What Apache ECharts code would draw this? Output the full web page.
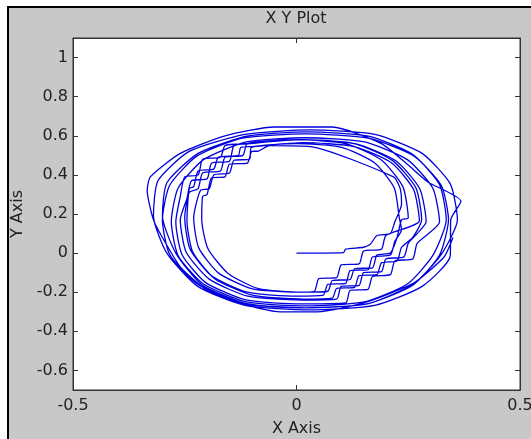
<!DOCTYPE html>
<html>
<head>
<meta charset="utf-8">
<title>X Y Plot</title>
<script src="https://cdn.jsdelivr.net/npm/echarts@6/dist/echarts.min.js"></script>
<style>
  html, body { margin: 0; padding: 0; background: #fff; }
  #frame {
    position: absolute; left: 7px; top: 6px; width: 522px; height: 431px;
    border-left: 2px solid #000; border-top: 2px solid #000; background: #c8c8c8;
  }
  #chart { position: absolute; left: 0; top: 0; width: 531px; height: 439px; }
</style>
</head>
<body>
<div id="frame"></div>
<div id="chart"></div>
<script>
// tick labels
const xTicks = [-0.5, 0, 0.5]
const yTicks = [-0.6, -0.4, -0.2, 0, 0.2, 0.4, 0.6, 0.8, 1]

// trajectory (x, y)
const startPath = [
  [0.0, 0.0], [0.06, 0.0], [0.105, 0.002], [0.11, 0.02], [0.15, 0.03], [0.165, 0.045],
  [0.18, 0.09], [0.21, 0.10], [0.22, 0.16], [0.235, 0.25], [0.232, 0.33], [0.217, 0.39],
  [0.031, 0.545]
]
const loop1 = [
  [-0.06, 0.55], [-0.085, 0.522], [-0.10, 0.52], [-0.11, 0.46], [-0.15, 0.455], [-0.16, 0.39],
  [-0.19, 0.385], [-0.20, 0.30], [-0.21, 0.29], [-0.212, 0.17], [-0.198, 0.022], [-0.153, -0.104],
  [-0.085, -0.182], [0.01, -0.20], [0.07, -0.195], [0.08, -0.14], [0.12, -0.135], [0.13, -0.08],
  [0.17, -0.075], [0.18, -0.01], [0.21, 0.0], [0.225, 0.08], [0.235, 0.17]
]
const loop2 = [
  [0.25, 0.18], [0.238, 0.34], [0.19, 0.476], [0.11, 0.56], [0.0, 0.58], [-0.11, 0.56],
  [-0.12, 0.50], [-0.16, 0.49], [-0.17, 0.42], [-0.21, 0.41], [-0.22, 0.33], [-0.24, 0.31],
  [-0.25, 0.18], [-0.238, 0.02], [-0.19, -0.116], [-0.11, -0.20], [0.0, -0.22], [0.06, -0.215],
  [0.07, -0.16], [0.11, -0.155], [0.12, -0.09], [0.16, -0.085], [0.17, -0.02], [0.21, -0.01],
  [0.22, 0.06], [0.235, 0.12]
]
const loop3 = [
  [0.23, 0.18], [0.219, 0.332], [0.175, 0.461], [0.101, 0.541], [0.0, 0.56], [-0.101, 0.541],
  [-0.105, 0.48], [-0.14, 0.475], [-0.15, 0.41], [-0.185, 0.40], [-0.195, 0.33], [-0.215, 0.32],
  [-0.23, 0.18], [-0.219, 0.028], [-0.175, -0.101], [-0.101, -0.181], [0.0, -0.20], [0.04, -0.195],
  [0.05, -0.13], [0.09, -0.125], [0.10, -0.06], [0.14, -0.055], [0.15, 0.01], [0.19, 0.02],
  [0.20, 0.09]
]
const loop4 = [
  [0.275, 0.165], [0.262, 0.325], [0.213, 0.461], [0.129, 0.545], [0.015, 0.565], [-0.099, 0.545],
  [-0.125, 0.54], [-0.13, 0.50], [-0.175, 0.49], [-0.185, 0.43], [-0.22, 0.42], [-0.23, 0.34],
  [-0.24, 0.33], [-0.245, 0.165], [-0.232, 0.005], [-0.183, -0.131], [-0.099, -0.215], [0.015, -0.235],
  [0.08, -0.23], [0.09, -0.18], [0.13, -0.175], [0.14, -0.115], [0.18, -0.11], [0.19, -0.05],
  [0.225, -0.04], [0.235, 0.03], [0.26, 0.08]
]
const loop5 = [
  [0.28, 0.17], [0.267, 0.334], [0.215, 0.473], [0.129, 0.56], [0.01, 0.58], [-0.109, 0.56],
  [-0.14, 0.55], [-0.15, 0.47], [-0.19, 0.46], [-0.20, 0.38], [-0.235, 0.37], [-0.245, 0.28],
  [-0.26, 0.17], [-0.247, 0.006], [-0.195, -0.133], [-0.109, -0.22], [0.01, -0.24], [0.09, -0.235],
  [0.10, -0.17], [0.14, -0.165], [0.15, -0.10], [0.19, -0.095], [0.20, -0.03], [0.24, -0.02],
  [0.25, 0.05], [0.27, 0.10]
]
const loop6 = [
  [0.29, 0.16], [0.276, 0.328], [0.223, 0.471], [0.133, 0.559], [0.01, 0.58], [-0.113, 0.559],
  [-0.16, 0.55], [-0.17, 0.49], [-0.21, 0.48], [-0.22, 0.40], [-0.25, 0.39], [-0.26, 0.29],
  [-0.27, 0.16], [-0.256, -0.008], [-0.203, -0.151], [-0.113, -0.239], [0.01, -0.26], [0.11, -0.255],
  [0.12, -0.19], [0.16, -0.185], [0.17, -0.12], [0.21, -0.11], [0.22, -0.04], [0.26, -0.03],
  [0.27, 0.05]
]
const loop7 = [
  [0.32, 0.16], [0.305, 0.332], [0.248, 0.478], [0.152, 0.569], [0.02, 0.59], [-0.112, 0.569],
  [-0.208, 0.478], [-0.265, 0.332], [-0.28, 0.16], [-0.265, -0.012], [-0.208, -0.158], [-0.112, -0.249],
  [0.02, -0.27], [0.152, -0.249], [0.248, -0.158], [0.305, -0.012]
]
const loop8 = [
  [0.335, 0.17], [0.32, 0.35], [0.261, 0.503], [0.161, 0.598], [0.025, 0.62], [-0.111, 0.598],
  [-0.22, 0.51], [-0.29, 0.36], [-0.30, 0.19], [-0.27, 0.0], [-0.211, -0.163], [-0.111, -0.258],
  [0.025, -0.28], [0.161, -0.258], [0.261, -0.163], [0.32, -0.01]
]
const loop9 = [
  [0.34, 0.17], [0.324, 0.346], [0.263, 0.496], [0.161, 0.588], [0.02, 0.61], [-0.121, 0.588],
  [-0.223, 0.496], [-0.284, 0.346], [-0.30, 0.17], [-0.284, -0.006], [-0.223, -0.156], [-0.121, -0.258],
  [0.02, -0.28], [0.161, -0.258], [0.263, -0.156], [0.324, -0.006]
]
const loop10 = [
  [0.36, 0.17], [0.344, 0.354], [0.281, 0.51], [0.175, 0.607], [0.03, 0.63], [-0.115, 0.607],
  [-0.24, 0.52], [-0.31, 0.37], [-0.32, 0.19], [-0.29, 0.0], [-0.221, -0.17], [-0.115, -0.267],
  [0.03, -0.29], [0.175, -0.267], [0.281, -0.17], [0.344, -0.014]
]
const outerLoop = [
  [0.345, 0.17], [0.368, 0.265], [0.294, 0.364], [0.25, 0.45], [0.19, 0.56], [0.08, 0.645],
  [-0.05, 0.645], [-0.16, 0.60], [-0.26, 0.51], [-0.327, 0.39], [-0.334, 0.32], [-0.32, 0.17],
  [-0.30, 0.08], [-0.26, -0.07], [-0.20, -0.19], [-0.13, -0.255], [-0.036, -0.30], [0.047, -0.30],
  [0.15, -0.255], [0.262, -0.153], [0.33, -0.02], [0.35, 0.08]
]

const path = [].concat(startPath, loop1, loop2, loop3, loop4, loop5, loop6, loop7, loop8,
  loop9, loop10, outerLoop)

const chart = echarts.init(document.getElementById('chart'))

const txt = { color: '#222', fontFamily: 'DejaVu Sans', fontSize: 16 }
const boxLine = { show: true, onZero: false, lineStyle: { color: '#333', width: 1 } }
const inTick = { show: true, inside: true, length: 5, lineStyle: { color: '#333', width: 1 } }

chart.setOption({
  animation: false,
  backgroundColor: 'transparent',
  title: {
    text: 'X Y Plot',
    left: 296,
    top: 11,
    padding: 0,
    textAlign: 'center',
    textStyle: { color: '#222', fontFamily: 'DejaVu Sans', fontSize: 16, fontWeight: 'normal' }
  },
  grid: {
    left: 73, right: 11, top: 38, bottom: 49,
    outerBoundsMode: 'none',
    show: true, backgroundColor: '#fff', borderColor: '#333', borderWidth: 1
  },
  xAxis: [
    {
      type: 'value', position: 'bottom', min: -0.5, max: 0.5, interval: 0.5,
      axisLine: boxLine, axisTick: inTick, splitLine: { show: false },
      axisLabel: Object.assign({ margin: 8, showMinLabel: true, showMaxLabel: true, customValues: xTicks }, txt),
      name: 'X Axis', nameLocation: 'middle', nameGap: 31, nameTextStyle: txt
    },
    {
      type: 'value', position: 'top', min: -0.5, max: 0.5, interval: 0.5,
      axisLine: boxLine, axisTick: inTick, splitLine: { show: false }, axisLabel: { show: false }
    }
  ],
  yAxis: [
    {
      type: 'value', position: 'left', min: -0.7, max: 1.1,
      axisLine: boxLine, axisTick: Object.assign({ customValues: yTicks }, inTick),
      splitLine: { show: false },
      axisLabel: Object.assign({ margin: 5, customValues: yTicks }, txt),
      name: 'Y Axis', nameLocation: 'middle', nameGap: 39, nameRotate: 90, nameTextStyle: txt
    },
    {
      type: 'value', position: 'right', min: -0.7, max: 1.1,
      axisLine: boxLine, axisTick: Object.assign({ customValues: yTicks }, inTick),
      splitLine: { show: false }, axisLabel: { show: false }
    }
  ],
  series: [{
    type: 'line',
    data: path,
    showSymbol: false,
    clip: true,
    smooth: 0.2,
    lineStyle: { color: '#0000dd', width: 1.3 }
  }]
})
</script>
</body>
</html>
